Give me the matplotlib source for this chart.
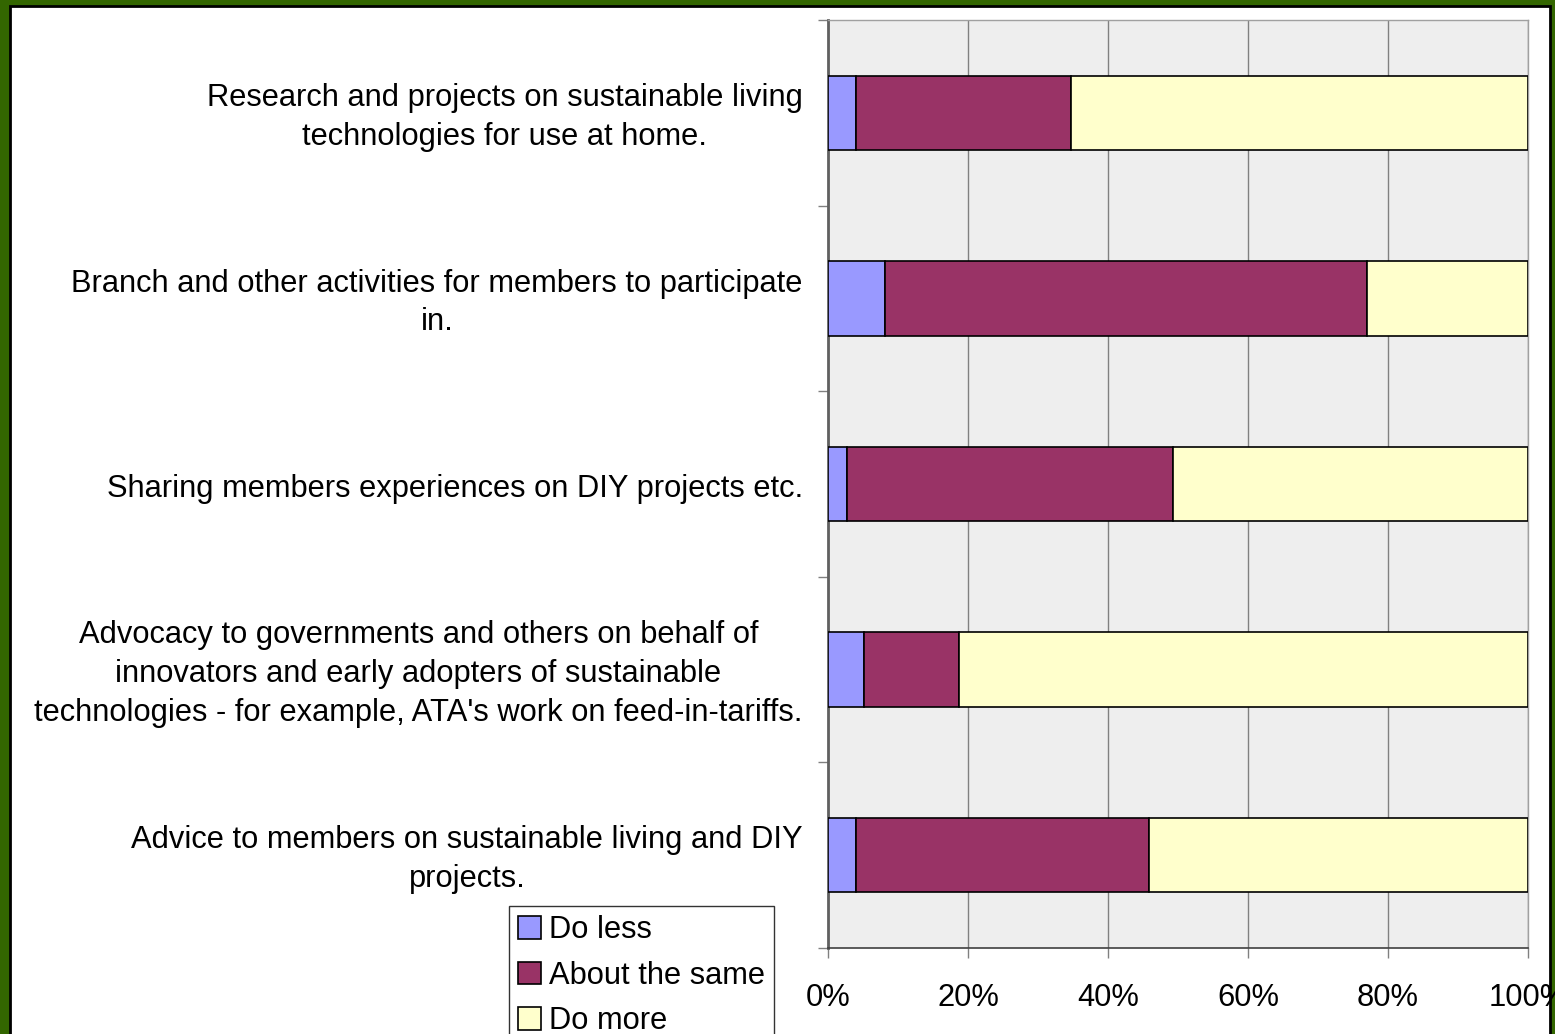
import matplotlib
matplotlib.use("Agg")
import matplotlib.pyplot as plt
from matplotlib.patches import Rectangle
import matplotlib.transforms as mtransforms
import numpy as np

categories = [
    "Research and projects on sustainable living\ntechnologies for use at home.",
    "Branch and other activities for members to participate\nin.",
    "Sharing members experiences on DIY projects etc.",
    "Advocacy to governments and others on behalf of\ninnovators and early adopters of sustainable\ntechnologies - for example, ATA's work on feed-in-tariffs.",
    "Advice to members on sustainable living and DIY\nprojects.",
]
do_less = [4.0, 8.1, 2.7, 5.1, 4.0]
about_same = [30.7, 68.9, 46.6, 13.6, 41.9]
do_more = [65.3, 23.0, 50.7, 81.3, 54.1]
series_names = ["Do less", "About the same", "Do more"]
colors = ["#9999FF", "#993366", "#FFFFCC"]
xticks = [0, 20, 40, 60, 80, 100]
xticklabels = ["0%", "20%", "40%", "60%", "80%", "100%"]

plt.rcParams['font.family'] = ['Liberation Sans', 'DejaVu Sans']
FS = 22.2
W, H = 1555, 1034
fig = plt.figure(figsize=(W / 100, H / 100), dpi=100)
fig.patch.set_facecolor("#336600")
fig.add_artist(Rectangle((10 / W, -0.01), (1550 - 10) / W, 1 - 6 / H + 0.01,
                         transform=fig.transFigure, facecolor="white",
                         edgecolor="black", linewidth=2, zorder=0))

ax = fig.add_axes([828 / W, 1 - 948 / H, 700 / W, (948 - 20) / H])
ax.set_facecolor("#EEEEEE")
n = len(categories)
y = np.arange(n)
h = 0.4
left = np.zeros(n)
for vals, name, c in zip([do_less, about_same, do_more], series_names, colors):
    ax.barh(y, vals, left=left, height=h, color=c, edgecolor="black",
            linewidth=1.2, label=name, zorder=3)
    left = left + np.array(vals)

ax.set_xlim(0, 100)
ax.set_ylim(n - 0.5, -0.5)
ax.set_xticks(xticks)
ax.set_xticklabels(xticklabels, fontsize=FS)
ax.tick_params(axis="x", length=7, color="#808080", pad=18, width=1)
ax.set_yticks(np.arange(n + 1) - 0.5)
ax.set_yticklabels([])
ax.tick_params(axis="y", length=7, color="#808080", width=1)
ax.xaxis.grid(True, color="#808080", linewidth=1, zorder=1)
ax.set_axisbelow(True)
for s in ["top", "right"]:
    ax.spines[s].set_color("#A0A0A0")
    ax.spines[s].set_linewidth(1)
ax.spines["left"].set_color("#606060")
ax.spines["left"].set_linewidth(2)
ax.spines["bottom"].set_color("#404040")
ax.spines["bottom"].set_linewidth(1.2)

lab_tr = mtransforms.offset_copy(ax.transAxes, fig=fig, x=0, y=-4.5, units="dots")
for i, lab in enumerate(categories):
    ax.text(-0.036, 1 - (i + 0.5) / n, lab, transform=lab_tr,
            ha="right", va="center", multialignment="center", fontsize=FS,
            linespacing=1.38)

leg = fig.legend(loc="upper left", bbox_to_anchor=(509 / W, 1 - 906 / H),
                 fontsize=FS, frameon=True, fancybox=False, edgecolor="black",
                 handlelength=0.75, handleheight=0.75, handletextpad=0.25,
                 labelspacing=0.5, borderpad=0.3, borderaxespad=0)
leg.get_frame().set_linewidth(1)

fig.savefig("out.png", dpi=100, facecolor=fig.get_facecolor())
